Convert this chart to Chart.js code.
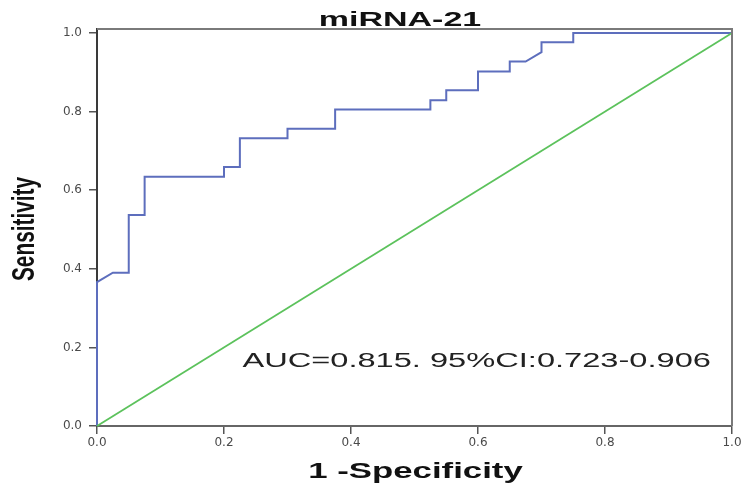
<!DOCTYPE html>
<html><head><meta charset="utf-8">
<script src="https://cdn.jsdelivr.net/npm/chart.js@4"></script>
<style>html,body{margin:0;padding:0;background:#fff}canvas{display:block}</style>
</head><body>
<canvas id="c" width="745" height="490"></canvas>
<script>
// ROC curve of miRNA-21 (1 - specificity, sensitivity)
const rocFpr  = [0, 0, 0.025, 0.05, 0.05, 0.075, 0.075, 0.2, 0.2, 0.225, 0.225, 0.3, 0.3, 0.375, 0.375, 0.525, 0.525, 0.55, 0.55, 0.6, 0.6, 0.65, 0.65, 0.675, 0.7, 0.7, 0.75, 0.75, 1];
const rocSens = [0, 0.366, 0.390, 0.390, 0.537, 0.537, 0.634, 0.634, 0.659, 0.659, 0.732, 0.732, 0.756, 0.756, 0.805, 0.805, 0.829, 0.829, 0.854, 0.854, 0.902, 0.902, 0.927, 0.927, 0.951, 0.976, 0.976, 1, 1];
// reference (chance) line
const refFpr  = [0, 1];
const refSens = [0, 1];
// tick labels
const xTicks = [0, 0.2, 0.4, 0.6, 0.8, 1.0];
const yTicks = [0, 0.2, 0.4, 0.6, 0.8, 1.0];
// texts
const titleText = 'miRNA-21';
const xTitle = '1 -Specificity';
const yTitle = 'Sensitivity';
const aucText = 'AUC=0.815. 95%CI:0.723-0.906';

const toPts = (xs, ys) => xs.map((x, i) => ({x: x, y: ys[i]}));

function stretchedText(ctx, text, x, y, font, sx, align, color) {
  ctx.save();
  ctx.font = font;
  ctx.fillStyle = color;
  ctx.textAlign = 'left';
  ctx.textBaseline = 'alphabetic';
  const w = ctx.measureText(text).width * sx;
  const left = align === 'center' ? x - w / 2 : x;
  ctx.translate(left, y);
  ctx.scale(sx, 1);
  ctx.fillText(text, 0, 0);
  ctx.restore();
}

const decor = {
  id: 'decor',
  afterDatasetsDraw(chart) {
    const ctx = chart.ctx, a = chart.chartArea;
    // frame top & right
    ctx.save();
    ctx.strokeStyle = '#7a7a7a';
    ctx.lineWidth = 2;
    ctx.beginPath();
    ctx.moveTo(a.left, a.top);
    ctx.lineTo(a.right, a.top);
    ctx.lineTo(a.right, a.bottom);
    ctx.stroke();
    ctx.restore();
  },
  afterDraw(chart) {
    const ctx = chart.ctx, xs = chart.scales.x, ys = chart.scales.y;
    const font = 'Liberation Sans, Arial, sans-serif';
    // title
    stretchedText(ctx, titleText, 400, 26, 'bold 20px ' + font, 1.7, 'center', '#111');
    // x title
    stretchedText(ctx, xTitle, 415.5, 477.5, 'bold 22px ' + font, 1.58, 'center', '#111');
    // AUC annotation
    stretchedText(ctx, aucText, xs.getPixelForValue(0.229), ys.getPixelForValue(0.151), '20px ' + font, 1.63, 'left', '#222');
    // y title (rotated)
    ctx.save();
    ctx.font = 'bold 20px ' + font;
    ctx.fillStyle = '#111';
    ctx.textAlign = 'center';
    ctx.textBaseline = 'alphabetic';
    ctx.translate(34, 229);
    ctx.rotate(-Math.PI / 2);
    ctx.scale(1.04, 1.55);
    ctx.fillText(yTitle, 0, 0);
    ctx.restore();
  }
};

new Chart(document.getElementById('c'), {
  type: 'line',
  data: {
    datasets: [
      {
        data: toPts(refFpr, refSens),
        borderColor: '#5cc25c',
        borderWidth: 1.8,
        pointRadius: 0,
        tension: 0,
        clip: false
      },
      {
        data: toPts(rocFpr, rocSens),
        borderColor: '#5d6ebd',
        borderWidth: 2,
        pointRadius: 0,
        tension: 0,
        clip: false
      }
    ]
  },
  options: {
    responsive: false,
    animation: false,
    devicePixelRatio: 1,
    layout: { padding: { top: 29, right: 13, left: 0, bottom: 0 } },
    plugins: { legend: { display: false }, title: { display: false }, tooltip: { enabled: false } },
    scales: {
      x: {
        type: 'linear',
        min: 0, max: 1,
        afterBuildTicks: s => { s.ticks = xTicks.map(v => ({ value: v })); },
        afterFit: s => { s.height = 64; },
        ticks: {
          callback: v => Number(v).toFixed(1),
          font: { family: 'DejaVu Sans', size: 12 },
          color: '#4a4a4a',
          padding: 2,
          maxRotation: 0
        },
        grid: { drawOnChartArea: false, drawTicks: true, tickLength: 8, color: '#555', lineWidth: 1.5 },
        border: { display: true, color: '#666', width: 2 }
      },
      y: {
        type: 'linear',
        min: 0, max: 1.01,
        afterBuildTicks: s => { s.ticks = yTicks.map(v => ({ value: v })); },
        afterFit: s => { s.width = 97; },
        ticks: {
          callback: v => Number(v).toFixed(1),
          font: { family: 'DejaVu Sans', size: 12 },
          color: '#4a4a4a',
          padding: 7
        },
        grid: { drawOnChartArea: false, drawTicks: true, tickLength: 8, color: '#555', lineWidth: 1.5 },
        border: { display: true, color: '#3a3a3a', width: 2 }
      }
    }
  },
  plugins: [decor]
});
</script>
</body></html>
